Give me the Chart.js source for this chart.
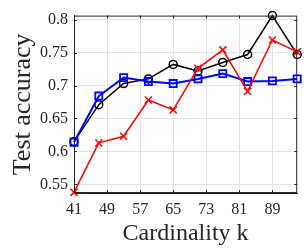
<!DOCTYPE html>
<html>
<head>
<meta charset="utf-8">
<script src="https://cdn.jsdelivr.net/npm/chart.js@4/dist/chart.umd.min.js"></script>
<style>
    html, body { margin: 0; padding: 0; background: #fff; }
    #wrap { width: 304px; height: 248px; }
</style>
</head>
<body>
<div id="wrap"><canvas id="accChart"></canvas></div>
<script>
// Cardinalidades k
const kValues = [41, 47, 53, 59, 65, 71, 77, 83, 89, 95];
// Séries
const blackCircle = [0.615, 0.671, 0.703, 0.710, 0.732, 0.722, 0.735, 0.747, 0.806, 0.747];
const blueSquare = [0.614, 0.684, 0.712, 0.706, 0.703, 0.710, 0.718, 0.706, 0.707, 0.710];
const redCross = [0.538, 0.613, 0.623, 0.678, 0.663, 0.726, 0.754, 0.691, 0.769, 0.751];
// Ticks
const xTicks = [41, 49, 57, 65, 73, 81, 89];
const yTicks = [0.55, 0.6, 0.65, 0.7, 0.75, 0.8];

const axisColor = '#262626';
const serif = "'Liberation Serif', 'Times New Roman', serif";

function toPoints(values) {
    return kValues.map((k, i) => ({ x: k, y: values[i] }));
}

// Moldura e ticks internos (estilo MATLAB)
const boxPlugin = {
    id: 'boxPlugin',
    afterDatasetsDraw(chart) {
        const { ctx, chartArea: a, scales } = chart;
        ctx.save();
        ctx.strokeStyle = axisColor;
        ctx.lineWidth = 1;
        ctx.strokeRect(a.left + 0.5, a.top + 0.5, a.right - a.left - 1, a.bottom - a.top - 1);
        ctx.beginPath();
        xTicks.forEach(v => {
            const px = Math.round(scales.x.getPixelForValue(v)) + 0.5;
            ctx.moveTo(px, a.bottom); ctx.lineTo(px, a.bottom - 3);
            ctx.moveTo(px, a.top); ctx.lineTo(px, a.top + 3);
        });
        yTicks.forEach(v => {
            const py = Math.round(scales.y.getPixelForValue(v)) + 0.5;
            ctx.moveTo(a.left, py); ctx.lineTo(a.left + 3, py);
            ctx.moveTo(a.right, py); ctx.lineTo(a.right - 3, py);
        });
        ctx.stroke();
        ctx.restore();
    }
};

const ctx = document.getElementById('accChart').getContext('2d');
new Chart(ctx, {
    type: 'line',
    data: {
        datasets: [
            {
                label: 'black',
                data: toPoints(blackCircle),
                borderColor: '#000000',
                backgroundColor: 'rgba(255,255,255,0)',
                borderWidth: 1.5,
                pointStyle: 'circle',
                pointRadius: 4,
                pointBorderWidth: 1.5,
                order: 3,
                clip: false
            },
            {
                label: 'blue',
                data: toPoints(blueSquare),
                borderColor: '#0000ff',
                backgroundColor: 'rgba(255,255,255,0)',
                borderWidth: 2,
                pointStyle: 'rect',
                pointRadius: 5,
                pointBorderWidth: 1.8,
                order: 2,
                clip: false
            },
            {
                label: 'red',
                data: toPoints(redCross),
                borderColor: '#ff0000',
                backgroundColor: 'rgba(255,255,255,0)',
                borderWidth: 1.5,
                pointStyle: 'crossRot',
                pointRadius: 5,
                pointBorderWidth: 1.5,
                order: 1,
                clip: false
            }
        ]
    },
    options: {
        responsive: true,
        maintainAspectRatio: false,
        animation: false,
        events: [],
        layout: { padding: { left: 0, top: 9, right: 6, bottom: 0 } },
        plugins: {
            legend: { display: false },
            tooltip: { enabled: false }
        },
        scales: {
            x: {
                type: 'linear',
                min: 41,
                max: 95,
                afterBuildTicks: scale => { scale.ticks = xTicks.map(v => ({ value: v })); },
                afterFit: scale => { scale.height = 55; },
                grid: { color: '#e3e3e3', drawTicks: false },
                border: { color: axisColor },
                ticks: {
                    color: axisColor,
                    padding: 7,
                    maxRotation: 0,
                    font: { family: serif, size: 16 }
                },
                title: {
                    display: true,
                    text: 'Cardinality k',
                    color: axisColor,
                    padding: { top: 0, bottom: 0 },
                    font: { family: serif, size: 24 }
                }
            },
            y: {
                min: 0.537,
                max: 0.806,
                afterBuildTicks: scale => { scale.ticks = yTicks.map(v => ({ value: v })); },
                afterFit: scale => { scale.width = 74; },
                grid: { color: '#e3e3e3', drawTicks: false },
                border: { color: axisColor },
                ticks: {
                    color: axisColor,
                    padding: 6,
                    font: { family: serif, size: 16 },
                    callback: v => String(Math.round(v * 100) / 100)
                },
                title: {
                    display: true,
                    text: 'Test accuracy',
                    color: axisColor,
                    padding: { top: 8, bottom: 0 },
                    font: { family: serif, size: 26 }
                }
            }
        }
    },
    plugins: [boxPlugin]
});
</script>
</body>
</html>
